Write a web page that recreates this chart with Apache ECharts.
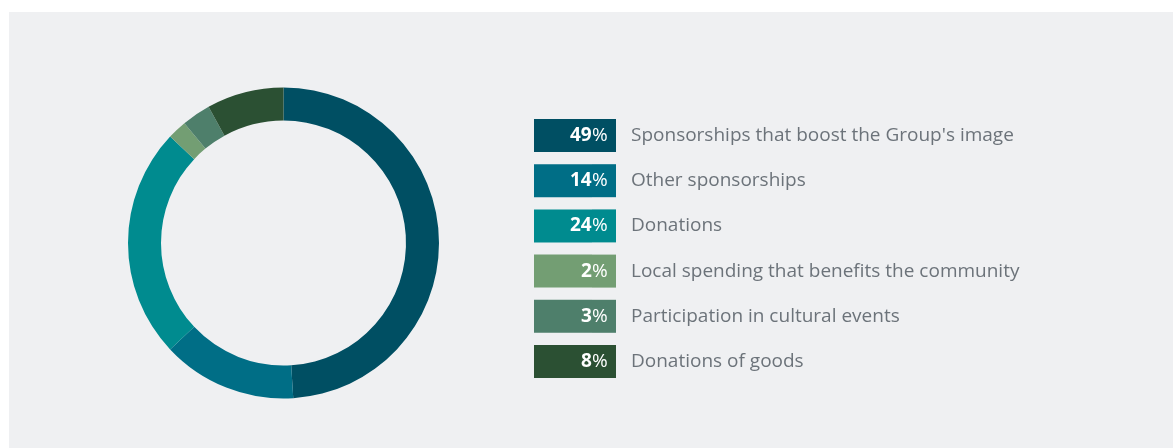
<!DOCTYPE html>
<html>
<head>
<meta charset="utf-8">
<title>Breakdown of community spending</title>
<script src="https://cdn.jsdelivr.net/npm/echarts@6/dist/echarts.min.js"></script>
<style>
  html, body { margin: 0; padding: 0; background: #ffffff; }
  #chart { width: 1173px; height: 448px; }
</style>
</head>
<body>
<div id="chart"></div>
<script>
// Spending categories and their shares (%)
const categories = [
  "Sponsorships that boost the Group's image",
  "Other sponsorships",
  "Donations",
  "Local spending that benefits the community",
  "Participation in cultural events",
  "Donations of goods"
];
const shares = [49, 14, 24, 2, 3, 8];
const colors = ["#004f63", "#006e86", "#008b8f", "#739e73", "#4e7f6b", "#2b5033"];

const FONT = "'Open Sans', 'Noto Sans', sans-serif";
const SIZE = 19;
const BOX_W = 82, BOX_H = 33, BOX_PAD_R = 8;

// Measure text so the percentage can be right-aligned inside its box;
// whole-pixel widths keep the two halves of each box seamless
const ctx = document.createElement('canvas').getContext('2d');
function textWidth(str, weight) {
  ctx.font = weight + ' ' + SIZE + 'px ' + FONT;
  return Math.ceil(ctx.measureText(str).width);
}
const pctW = textWidth('%', 'normal');

const rich = {
  t: { fontFamily: FONT, fontSize: SIZE, color: '#6c737a', padding: [0, 0, 0, 15], lineHeight: BOX_H }
};
categories.forEach((c, i) => {
  const numW = textWidth(String(shares[i]), 'bold');
  rich['n' + i] = {
    fontFamily: FONT, fontSize: SIZE, fontWeight: 'bold', color: '#ffffff',
    backgroundColor: colors[i], width: numW, height: BOX_H, lineHeight: BOX_H,
    padding: [0, 0, 0, BOX_W - BOX_PAD_R - pctW - numW]
  };
  rich['p' + i] = {
    fontFamily: FONT, fontSize: SIZE, fontWeight: 'normal', color: '#ffffff',
    backgroundColor: colors[i], width: pctW, height: BOX_H, lineHeight: BOX_H,
    padding: [0, BOX_PAD_R, 0, 0]
  };
});

const chart = echarts.init(document.getElementById('chart'), null, { renderer: 'canvas' });

chart.setOption({
  animation: false,
  backgroundColor: '#ffffff',
  color: colors,
  graphic: [{
    type: 'rect', silent: true, z: -10,
    shape: { x: 9, y: 12, width: 1164, height: 436 },
    style: { fill: '#eff0f2' }
  }],
  legend: {
    orient: 'vertical',
    left: 529,
    top: 119,
    padding: 0,
    itemWidth: 0,
    itemHeight: 0,
    icon: 'none',
    itemGap: 12.2,
    selectedMode: false,
    data: categories,
    formatter: function (name) {
      const i = categories.indexOf(name);
      return '{n' + i + '|' + shares[i] + '}{p' + i + '|%}{t|' + name + '}';
    },
    textStyle: { rich: rich }
  },
  series: [{
    type: 'pie',
    center: [283.5, 243],
    radius: [122.5, 155.5],
    startAngle: 90,
    clockwise: true,
    silent: true,
    label: { show: false },
    labelLine: { show: false },
    itemStyle: { borderWidth: 0 },
    data: categories.map((c, i) => ({ name: c, value: shares[i] }))
  }]
});
</script>
</body>
</html>
